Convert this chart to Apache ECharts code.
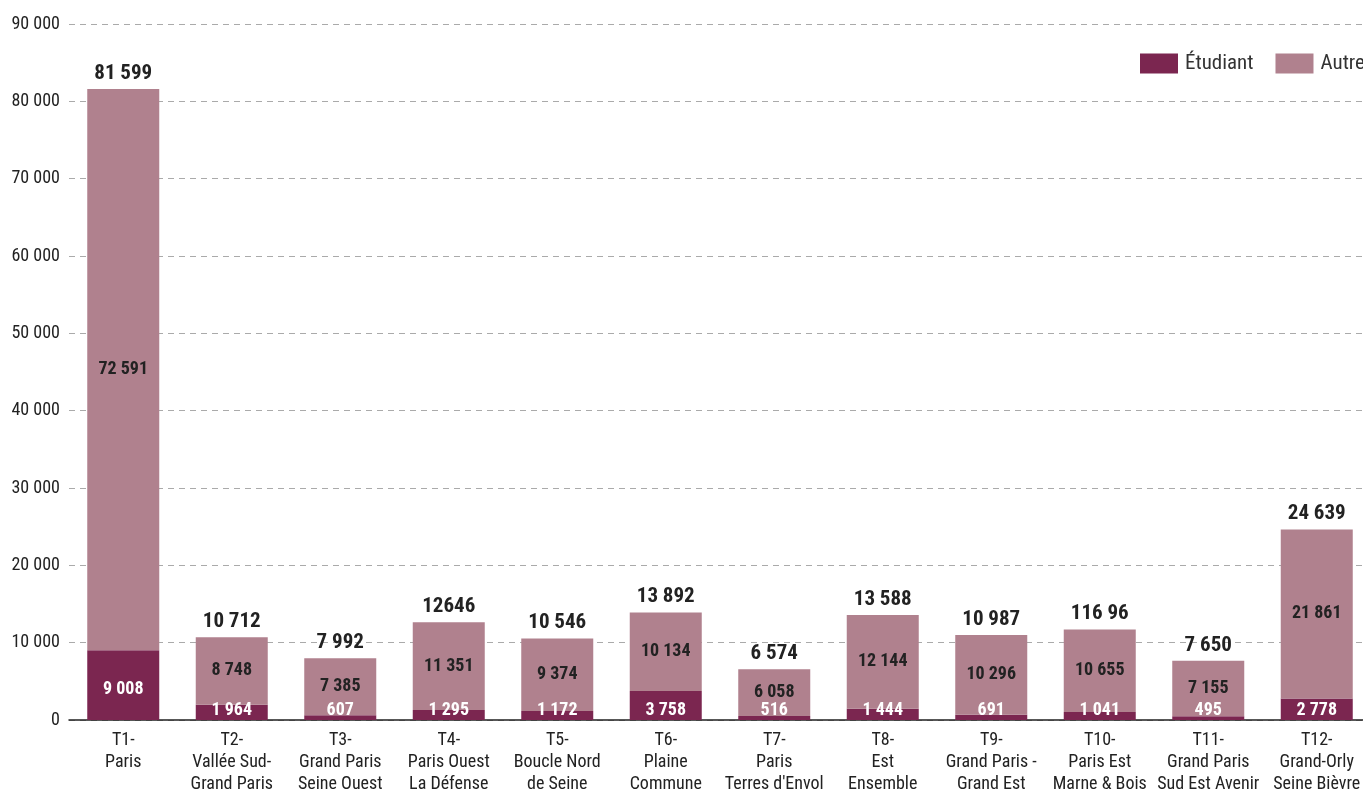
<!DOCTYPE html>
<html><head><meta charset="utf-8">
<script src="https://cdn.jsdelivr.net/npm/echarts@6/dist/echarts.min.js"></script>
<style>html,body{margin:0;padding:0;background:#fff;}#c{width:1363px;height:791px;}</style>
</head><body><div id="c"></div>
<script>
const categories = ["T1-\nParis","T2-\nVallée Sud-\nGrand Paris","T3-\nGrand Paris\nSeine Ouest","T4-\nParis Ouest\nLa Défense","T5-\nBoucle Nord\nde Seine","T6-\nPlaine\nCommune","T7-\nParis\nTerres d'Envol","T8-\nEst\nEnsemble","T9-\nGrand Paris -\nGrand Est","T10-\nParis Est\nMarne & Bois","T11-\nGrand Paris\nSud Est Avenir","T12-\nGrand-Orly\nSeine Bièvre"];
const etudiant = [9008,1964,607,1295,1172,3758,516,1444,691,1041,495,2778];
const autre = [72591,8748,7385,11351,9374,10134,6058,12144,10296,10655,7155,21861];
const totalLabels = ["81 599","10 712","7 992","12646","10 546","13 892","6 574","13 588","10 987","116 96","7 650","24 639"];
const yTicks = {min:0, max:90000, interval:10000};

const FONT = "'Roboto Condensed','Liberation Sans Narrow','DejaVu Sans Condensed',Roboto,sans-serif";
const fmt = v => String(v).replace(/\B(?=(\d{3})+(?!\d))/g, ' ');

const chart = echarts.init(document.getElementById('c'));
chart.setOption({
  animation:false,
  textStyle:{fontFamily:FONT},
  legend:{
    data:['Étudiant','Autre'], orient:'horizontal', left:1135, top:48, width:400, itemWidth:38, itemHeight:20, itemGap:22,
    icon:'rect', textStyle:{fontFamily:FONT, fontSize:21, color:'#333', padding:[0,0,0,2]}
  },
  grid:{left:69, top:24, width:1302, height:696, containLabel:false, outerBoundsMode:'none'},
  xAxis:{
    type:'category', data:categories,
    axisLine:{lineStyle:{color:'#222', width:1.5}},
    axisTick:{show:false},
    axisLabel:{fontFamily:FONT, fontSize:18, color:'#222', lineHeight:22, margin:9, interval:0}
  },
  yAxis:{
    type:'value', min:yTicks.min, max:yTicks.max, interval:yTicks.interval,
    axisLabel:{fontFamily:FONT, fontSize:18, color:'#222', margin:9, formatter:v=>fmt(v)},
    axisLine:{show:false}, axisTick:{show:false},
    splitLine:{lineStyle:{color:'#aaa', type:[6,5], width:1}}
  },
  series:[
    {
      name:'Étudiant', type:'bar', stack:'s', barWidth:72,
      itemStyle:{color:'#7b2650'},
      data: etudiant.map(v => ({value:v, label:{position: v > 5000 ? 'inside' : 'insideBottom', distance:1, offset: v > 5000 ? [0,4] : [0,0]}})),
      label:{show:true, color:'#fff', fontFamily:FONT, fontWeight:'bold', fontSize:18, formatter:p=>fmt(p.value)}
    },
    {
      name:'Autre', type:'bar', stack:'s', barWidth:72,
      itemStyle:{color:'#b0818e'},
      data: autre,
      label:{show:true, position:'inside', color:'#222', fontFamily:FONT, fontWeight:'bold', fontSize:18, formatter:p=>fmt(p.value)}
    },
    {
      name:'Total', type:'bar', stack:'s', barWidth:72,
      data: autre.map(()=>0),
      itemStyle:{color:'transparent'},
      label:{show:true, position:'top', distance:5, color:'#222', fontFamily:FONT, fontWeight:'bold', fontSize:21,
        formatter:p=>totalLabels[p.dataIndex]}
    }
  ]
});
</script></body></html>
